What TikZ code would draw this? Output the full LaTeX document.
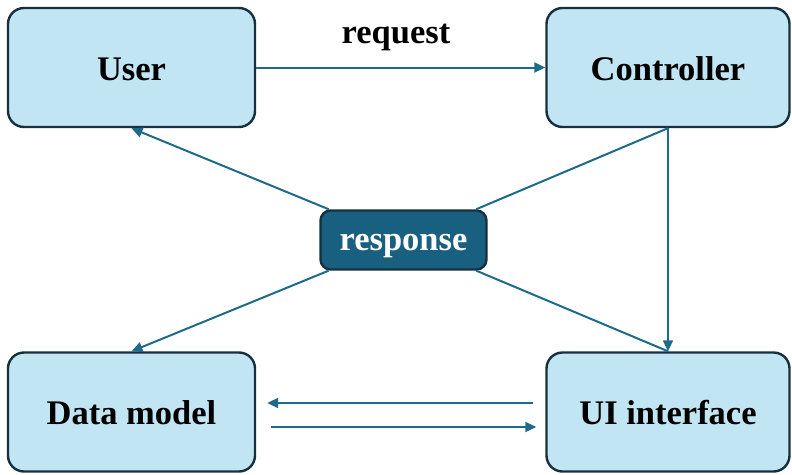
\documentclass[tikz,border=0pt]{standalone}
\usepackage{fontspec}
\setmainfont{Liberation Serif}
\usetikzlibrary{arrows.meta,calc}
\definecolor{boxfill}{HTML}{C2E5F4}
\definecolor{boxline}{HTML}{16303E}
\definecolor{conn}{HTML}{1E6A8B}
\definecolor{respfill}{HTML}{185F80}
\tikzset{
  mainbox/.style={draw=boxline, fill=boxfill, line width=2.4pt, rounded corners=16pt,
    minimum width=247pt, minimum height=119pt, inner sep=0pt,
    text height=25pt, text depth=0pt,
    font=\fontsize{34.5}{40}\selectfont\bfseries, text=black},
  respbox/.style={draw=boxline, fill=respfill, line width=2.4pt, rounded corners=10pt,
    minimum width=166pt, minimum height=59pt, inner sep=0pt,
    text height=21pt, text depth=1pt,
    font=\fontsize{34.5}{40}\selectfont\bfseries, text=white},
  conn/.style={draw=conn, line width=2pt},
  connarrow/.style={conn, -{Triangle[length=11pt,width=10pt]}},
  lbl/.style={font=\fontsize{34.5}{40}\selectfont\bfseries, text=black, inner sep=0pt}
}
\begin{document}
\begin{tikzpicture}[x=1pt,y=-1pt]
\useasboundingbox (0,0) rectangle (792,474);
\node[mainbox] (user) at (131.5,67.5) {User};
\node[mainbox, minimum width=243pt] (ctrl) at (668,67.5) {Controller};
\node[mainbox] (data) at (131.5,412) {Data model};
\node[mainbox, minimum width=243pt] (ui) at (668,412) {UI interface};
\node[respbox] (resp) at (403.5,240) {response};
\node[lbl, anchor=base] (reqlbl) at (396,43) {request};

\draw[connarrow] (user.east) -- (ctrl.west);
\draw[connarrow] (resp) -- (user.south);
\draw[conn] (ctrl.south) -- (resp);
\draw[connarrow] (ctrl.south) -- (ui.north);
\draw[connarrow] (resp) -- (data.north);
\draw[conn] (resp) -- (ui.north);
\draw[connarrow] ([xshift=-12pt,yshift=9pt]ui.west) -- ([xshift=11pt,yshift=9pt]data.east);
\draw[connarrow] ([xshift=15pt,yshift=-15pt]data.east) -- ([xshift=-9pt,yshift=-15pt]ui.west);
\end{tikzpicture}
\end{document}
